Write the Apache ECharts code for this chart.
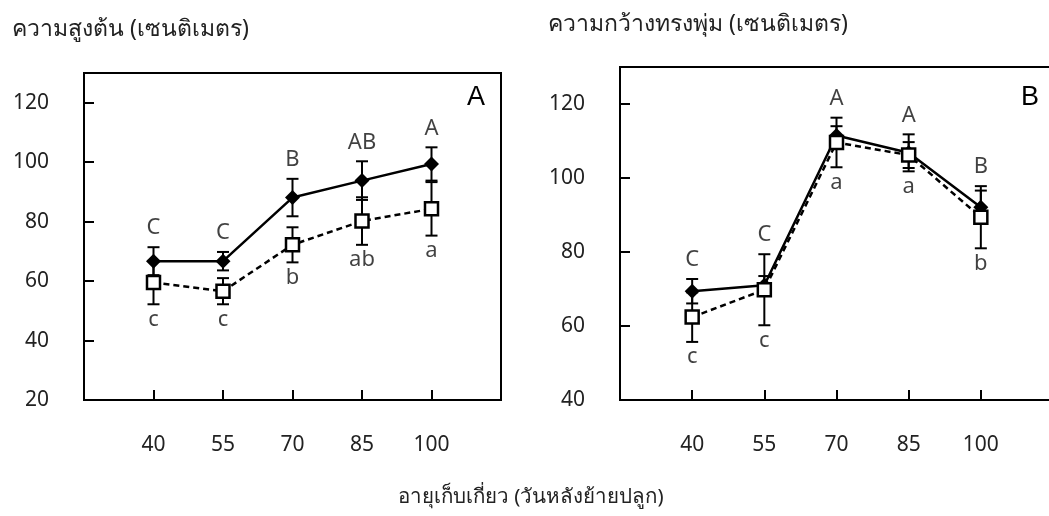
<!DOCTYPE html>
<html>
<head>
<meta charset="utf-8">
<script src="https://cdn.jsdelivr.net/npm/echarts@6/dist/echarts.min.js"></script>
<style>
  html, body { margin: 0; padding: 0; background: #fff; }
  #chart { width: 1049px; height: 516px; }
</style>
</head>
<body>
<div id="chart"></div>
<script>
// days after transplanting
const days = [40, 55, 70, 85, 100];
const xTicks = [40, 55, 70, 85, 100];
const heightTicks = [20, 40, 60, 80, 100, 120];
const widthTicks = [40, 60, 80, 100, 120];

// panel A: plant height (cm)
const heightSolid = [66.7, 66.7, 88.1, 93.8, 99.4];
const heightSolidErr = [4.7, 3.1, 6.3, 6.5, 5.6];
const heightOpen = [59.5, 56.6, 72.2, 80.2, 84.3];
const heightOpenErr = [7.3, 4.4, 5.9, 8.0, 9.0];
const heightUpper = ["C", "C", "B", "AB", "A"];
const heightLower = ["c", "c", "b", "ab", "a"];

// panel B: canopy width (cm)
const widthSolid = [69.4, 71.0, 111.5, 106.8, 92.1];
const widthSolidErr = [3.3, 2.5, 2.5, 5.0, 4.5];
const widthOpen = [62.4, 69.8, 109.6, 106.2, 89.4];
const widthOpenErr = [6.7, 9.6, 6.7, 3.5, 8.4];
const widthUpper = ["C", "C", "A", "A", "B"];
const widthLower = ["c", "c", "a", "a", "b"];

const FONT = "'Noto Sans', 'DejaVu Sans', sans-serif";
const chart = echarts.init(document.getElementById("chart"));

function pairs(vals) {
  return days.map((d, i) => [d, vals[i]]);
}

function errData(vals, errs) {
  return days.map((d, i) => [d, vals[i] - errs[i], vals[i] + errs[i]]);
}

function renderErr(params, api) {
  const x = api.value(0);
  const top = api.coord([x, api.value(2)]);
  const bot = api.coord([x, api.value(1)]);
  const w = 6;
  const st = { stroke: "#000", lineWidth: 2 };
  return {
    type: "group",
    children: [
      { type: "line", shape: { x1: top[0], y1: top[1], x2: bot[0], y2: bot[1] }, style: st },
      { type: "line", shape: { x1: top[0] - w, y1: top[1], x2: top[0] + w, y2: top[1] }, style: st },
      { type: "line", shape: { x1: bot[0] - w, y1: bot[1], x2: bot[0] + w, y2: bot[1] }, style: st }
    ]
  };
}

function panelSeries(idx, solid, solidErr, open, openErr, upper, lower) {
  // letters sit above the highest / below the lowest error bar end
  const upData = days.map((d, i) => ({
    value: [d, Math.max(solid[i] + solidErr[i], open[i] + openErr[i])],
    name: upper[i]
  }));
  const lowData = days.map((d, i) => ({
    value: [d, Math.min(solid[i] - solidErr[i], open[i] - openErr[i])],
    name: lower[i]
  }));
  const letterLabel = (pos, dist) => ({
    show: true,
    position: pos,
    distance: dist,
    formatter: p => p.name,
    color: "#111",
    fontSize: 22,
    fontFamily: FONT
  });
  return [
    {
      type: "custom", xAxisIndex: idx, yAxisIndex: idx, z: 1,
      renderItem: renderErr, data: errData(solid, solidErr)
    },
    {
      type: "custom", xAxisIndex: idx, yAxisIndex: idx, z: 1,
      renderItem: renderErr, data: errData(open, openErr)
    },
    {
      type: "line", xAxisIndex: idx, yAxisIndex: idx, z: 3,
      data: pairs(open),
      symbol: "rect", symbolSize: 13,
      itemStyle: { color: "#fff", borderColor: "#000", borderWidth: 2.5 },
      lineStyle: { color: "#000", width: 2.5, type: [6, 4] },
      animation: false
    },
    {
      type: "line", xAxisIndex: idx, yAxisIndex: idx, z: 2,
      data: pairs(solid),
      symbol: "diamond", symbolSize: 15,
      itemStyle: { color: "#000" },
      lineStyle: { color: "#000", width: 2.5 },
      animation: false
    },
    {
      type: "scatter", xAxisIndex: idx, yAxisIndex: idx, symbolSize: 0,
      data: upData, label: letterLabel("top", 8), silent: true
    },
    {
      type: "scatter", xAxisIndex: idx, yAxisIndex: idx, symbolSize: 0,
      data: lowData, label: letterLabel("bottom", 4), silent: true
    }
  ];
}

function xAxis(idx) {
  return {
    type: "value", gridIndex: idx, min: 25, max: 115, interval: 15,
    axisLine: { show: true, lineStyle: { color: "#000", width: 2 } },
    axisTick: { show: true, inside: true, length: 10, lineStyle: { color: "#000", width: 2 } },
    axisLabel: {
      margin: 35, fontSize: 21, color: "#222", fontFamily: FONT,
      formatter: v => (xTicks.includes(v) ? String(v) : "")
    },
    splitLine: { show: false }
  };
}

function yAxis(idx, min, ticks) {
  return {
    type: "value", gridIndex: idx, min: min, max: 130, interval: 20,
    axisLine: { show: true, lineStyle: { color: "#000", width: 2 } },
    axisTick: { show: true, inside: true, length: 10, lineStyle: { color: "#000", width: 2 } },
    axisLabel: {
      margin: 35, fontSize: 21, color: "#222", fontFamily: FONT,
      formatter: v => (ticks.includes(v) ? String(v) : "")
    },
    splitLine: { show: false }
  };
}

const option = {
  animation: false,
  backgroundColor: "#fff",
  grid: [
    {
      left: 84, top: 73, width: 417, height: 327, outerBoundsMode: "none",
      show: true, borderColor: "#000", borderWidth: 2
    },
    {
      left: 620, top: 67, width: 433, height: 333, outerBoundsMode: "none",
      show: true, borderColor: "#000", borderWidth: 2
    }
  ],
  xAxis: [xAxis(0), xAxis(1)],
  yAxis: [yAxis(0, 20, heightTicks), yAxis(1, 40, widthTicks)],
  graphic: [
    {
      type: "text", left: 12, top: 18,
      style: { text: "ความสูงต้น (เซนติเมตร)", fontSize: 23, fill: "#222", fontFamily: FONT }
    },
    {
      type: "text", left: 548, top: 13,
      style: { text: "ความกว้างทรงพุ่ม (เซนติเมตร)", fontSize: 23, fill: "#222", fontFamily: FONT }
    },
    {
      type: "text", left: 398, top: 487,
      style: { text: "อายุเก็บเกี่ยว (วันหลังย้ายปลูก)", fontSize: 20.5, fill: "#222", fontFamily: FONT }
    },
    {
      type: "text", left: 467, top: 84,
      style: { text: "A", fontSize: 27, fill: "#000", fontFamily: "'Liberation Sans', Arial, sans-serif" }
    },
    {
      type: "text", left: 1021, top: 84,
      style: { text: "B", fontSize: 27, fill: "#000", fontFamily: "'Liberation Sans', Arial, sans-serif" }
    }
  ],
  series: [
    ...panelSeries(0, heightSolid, heightSolidErr, heightOpen, heightOpenErr, heightUpper, heightLower),
    ...panelSeries(1, widthSolid, widthSolidErr, widthOpen, widthOpenErr, widthUpper, widthLower)
  ]
};

chart.setOption(option);
</script>
</body>
</html>
